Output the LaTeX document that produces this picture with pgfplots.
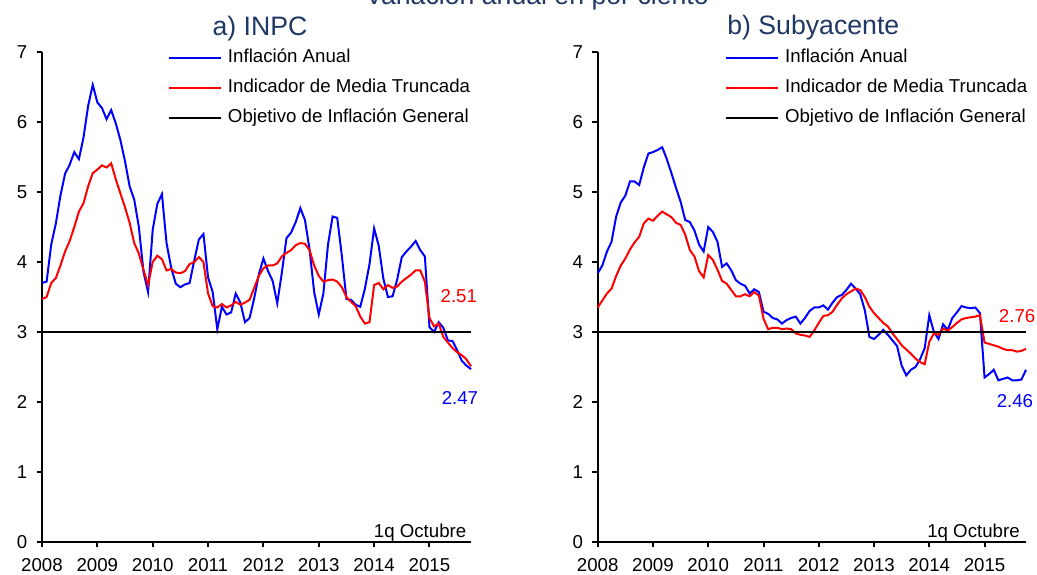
\documentclass[border=0pt]{standalone}
\usepackage{fontspec}
\setmainfont{Liberation Sans}
\usepackage{pgfplots}
\usepackage{pgfplotstable}
\pgfplotsset{compat=1.18}
\definecolor{titlecol}{RGB}{31,56,100}
\newcommand{\smallf}{\fontsize{14}{16}\selectfont}
\newcommand{\bigf}{\fontsize{20}{24}\selectfont}

\pgfplotstableread{
y m blue red
2008 1 3.70 3.47
2008 2 3.72 3.50
2008 3 4.25 3.70
2008 4 4.55 3.77
2008 5 4.95 3.95
2008 6 5.26 4.15
2008 7 5.39 4.30
2008 8 5.57 4.50
2008 9 5.47 4.72
2008 10 5.78 4.84
2008 11 6.23 5.08
2008 12 6.53 5.27
2009 1 6.28 5.32
2009 2 6.20 5.38
2009 3 6.04 5.35
2009 4 6.17 5.41
2009 5 5.98 5.18
2009 6 5.74 4.98
2009 7 5.44 4.78
2009 8 5.08 4.56
2009 9 4.89 4.27
2009 10 4.50 4.12
2009 11 3.86 3.89
2009 12 3.57 3.67
2010 1 4.46 4.00
2010 2 4.83 4.09
2010 3 4.97 4.04
2010 4 4.27 3.88
2010 5 3.92 3.90
2010 6 3.69 3.85
2010 7 3.64 3.84
2010 8 3.68 3.87
2010 9 3.70 3.97
2010 10 4.02 4.00
2010 11 4.32 4.07
2010 12 4.40 4.00
2011 1 3.78 3.55
2011 2 3.57 3.37
2011 3 3.04 3.35
2011 4 3.36 3.40
2011 5 3.25 3.35
2011 6 3.28 3.38
2011 7 3.55 3.43
2011 8 3.42 3.39
2011 9 3.14 3.42
2011 10 3.20 3.46
2011 11 3.48 3.63
2011 12 3.82 3.80
2012 1 4.05 3.91
2012 2 3.87 3.95
2012 3 3.73 3.95
2012 4 3.41 3.98
2012 5 3.85 4.08
2012 6 4.34 4.13
2012 7 4.42 4.17
2012 8 4.57 4.24
2012 9 4.77 4.27
2012 10 4.60 4.26
2012 11 4.18 4.17
2012 12 3.57 3.95
2013 1 3.25 3.80
2013 2 3.55 3.72
2013 3 4.25 3.74
2013 4 4.65 3.75
2013 5 4.63 3.72
2013 6 4.09 3.64
2013 7 3.47 3.50
2013 8 3.46 3.43
2013 9 3.39 3.37
2013 10 3.36 3.22
2013 11 3.62 3.12
2013 12 3.97 3.14
2014 1 4.48 3.67
2014 2 4.23 3.70
2014 3 3.76 3.61
2014 4 3.50 3.67
2014 5 3.51 3.63
2014 6 3.75 3.65
2014 7 4.07 3.72
2014 8 4.15 3.77
2014 9 4.22 3.82
2014 10 4.30 3.88
2014 11 4.17 3.88
2014 12 4.08 3.72
2015 1 3.07 3.20
2015 2 3.00 3.08
2015 3 3.14 3.12
2015 4 3.06 2.93
2015 5 2.88 2.85
2015 6 2.87 2.77
2015 7 2.74 2.71
2015 8 2.59 2.67
2015 9 2.52 2.61
2015 10 2.47 2.51
}\inpc

\pgfplotstableread{
y m blue red
2008 1 3.84 3.35
2008 2 3.95 3.45
2008 3 4.15 3.55
2008 4 4.29 3.62
2008 5 4.65 3.80
2008 6 4.85 3.95
2008 7 4.95 4.05
2008 8 5.15 4.18
2008 9 5.15 4.28
2008 10 5.10 4.36
2008 11 5.35 4.55
2008 12 5.55 4.62
2009 1 5.57 4.59
2009 2 5.60 4.66
2009 3 5.64 4.72
2009 4 5.47 4.68
2009 5 5.27 4.64
2009 6 5.06 4.56
2009 7 4.86 4.53
2009 8 4.60 4.39
2009 9 4.57 4.17
2009 10 4.45 4.08
2009 11 4.25 3.87
2009 12 4.15 3.78
2010 1 4.50 4.10
2010 2 4.43 4.03
2010 3 4.29 3.89
2010 4 3.93 3.73
2010 5 3.98 3.69
2010 6 3.88 3.60
2010 7 3.74 3.51
2010 8 3.69 3.51
2010 9 3.66 3.54
2010 10 3.55 3.51
2010 11 3.61 3.57
2010 12 3.57 3.52
2011 1 3.29 3.19
2011 2 3.26 3.04
2011 3 3.20 3.06
2011 4 3.18 3.06
2011 5 3.12 3.04
2011 6 3.17 3.05
2011 7 3.20 3.04
2011 8 3.22 2.98
2011 9 3.12 2.96
2011 10 3.20 2.95
2011 11 3.30 2.93
2011 12 3.35 3.02
2012 1 3.35 3.13
2012 2 3.38 3.23
2012 3 3.32 3.24
2012 4 3.42 3.29
2012 5 3.50 3.39
2012 6 3.53 3.48
2012 7 3.60 3.54
2012 8 3.69 3.58
2012 9 3.62 3.62
2012 10 3.54 3.60
2012 11 3.31 3.50
2012 12 2.93 3.36
2013 1 2.90 3.27
2013 2 2.96 3.20
2013 3 3.03 3.13
2013 4 2.96 3.08
2013 5 2.88 2.98
2013 6 2.80 2.90
2013 7 2.52 2.81
2013 8 2.38 2.75
2013 9 2.46 2.69
2013 10 2.50 2.62
2013 11 2.61 2.57
2013 12 2.77 2.54
2014 1 3.24 2.86
2014 2 3.00 2.98
2014 3 2.90 2.96
2014 4 3.11 3.05
2014 5 3.03 3.02
2014 6 3.20 3.07
2014 7 3.28 3.13
2014 8 3.37 3.18
2014 9 3.35 3.20
2014 10 3.34 3.21
2014 11 3.35 3.22
2014 12 3.27 3.24
2015 1 2.35 2.85
2015 2 2.40 2.83
2015 3 2.46 2.81
2015 4 2.31 2.79
2015 5 2.33 2.76
2015 6 2.35 2.74
2015 7 2.31 2.74
2015 8 2.31 2.72
2015 9 2.32 2.73
2015 10 2.46 2.76
}\subyac

\pgfplotsset{
  panel/.style={
    scale only axis, height=367.5pt,
    anchor=south west,
    xmin=2008, xmax=2015.75, ymin=0, ymax=7,
    axis lines*=left,
    axis line style={line width=1.5pt, black},
    xtick={2008,...,2015}, ytick={0,...,7},
    tick align=outside, major tick length=4pt,
    every tick/.style={black, line width=1.5pt},
    tick label style={font=\smallf, black},
    xticklabel style={/pgf/number format/1000 sep={}, yshift=-4.5pt},
    yticklabel style={xshift=-3.5pt},
    /pgf/number format/assume math mode=true,
    clip=false,
    legend cell align=left,
    legend image code/.code={\draw[##1] (0pt,0pt) -- (39pt,0pt);},
  },
  blueline/.style={blue, line width=1.5pt},
  redline/.style={red, line width=1.5pt},
  leg/.style={legend style={draw=none, fill=none, inner sep=0pt, outer sep=0pt,
      at={(rel axis cs:#1,1.005)}, anchor=north west, font=\smallf,
      row sep=9.5pt, column sep=4.5pt,
      nodes={inner sep=0pt, text height=10pt, text depth=3pt}}},
}

\begin{document}
\begin{tikzpicture}[x=1pt,y=1pt]
\useasboundingbox (0,0) rectangle (777.75,430.5);

\node[anchor=base, text=titlecol, font=\bigf] at (402.75,426.75) {Variación anual en por ciento};
\node[anchor=base, text=titlecol, font=\bigf] at (195,403.5) {a) INPC};
\node[anchor=base, text=titlecol, font=\bigf] at (610,404.25) {b) Subyacente};

\begin{axis}[panel, width=321.75pt, at={(31.5pt,24pt)}, leg=0.2937]
\addplot[blueline] table[x expr={\thisrow{y}+(\thisrow{m}-1)/12}, y=blue] {\inpc};
\addlegendentry{Inflación Anual}
\addplot[redline] table[x expr={\thisrow{y}+(\thisrow{m}-1)/12}, y=red] {\inpc};
\addlegendentry{Indicador de Media Truncada}
\addplot[black, line width=1.5pt] coordinates {(2008,3) (2015.75,3)};
\addlegendentry{Objetivo de Inflación General}
\node[text=red, font=\smallf] at (axis cs:2015.53,3.51) {2.51};
\node[text=blue, font=\smallf] at (axis cs:2015.55,2.06) {2.47};
\node[anchor=base east, inner sep=0pt, font=\smallf] at (axis cs:2015.67,0.06) {1q Octubre};
\end{axis}

\begin{axis}[panel, width=321.2pt, at={(448.3pt,24pt)}, leg=0.2973]
\addplot[blueline] table[x expr={\thisrow{y}+(\thisrow{m}-1)/12}, y=blue] {\subyac};
\addlegendentry{Inflación Anual}
\addplot[redline] table[x expr={\thisrow{y}+(\thisrow{m}-1)/12}, y=red] {\subyac};
\addlegendentry{Indicador de Media Truncada}
\addplot[black, line width=1.5pt] coordinates {(2008,3) (2015.75,3)};
\addlegendentry{Objetivo de Inflación General}
\node[text=red, font=\smallf] at (axis cs:2015.59,3.23) {2.76};
\node[text=blue, font=\smallf] at (axis cs:2015.55,2.01) {2.46};
\node[anchor=base east, inner sep=0pt, font=\smallf] at (axis cs:2015.64,0.06) {1q Octubre};
\end{axis}
\end{tikzpicture}
\end{document}
